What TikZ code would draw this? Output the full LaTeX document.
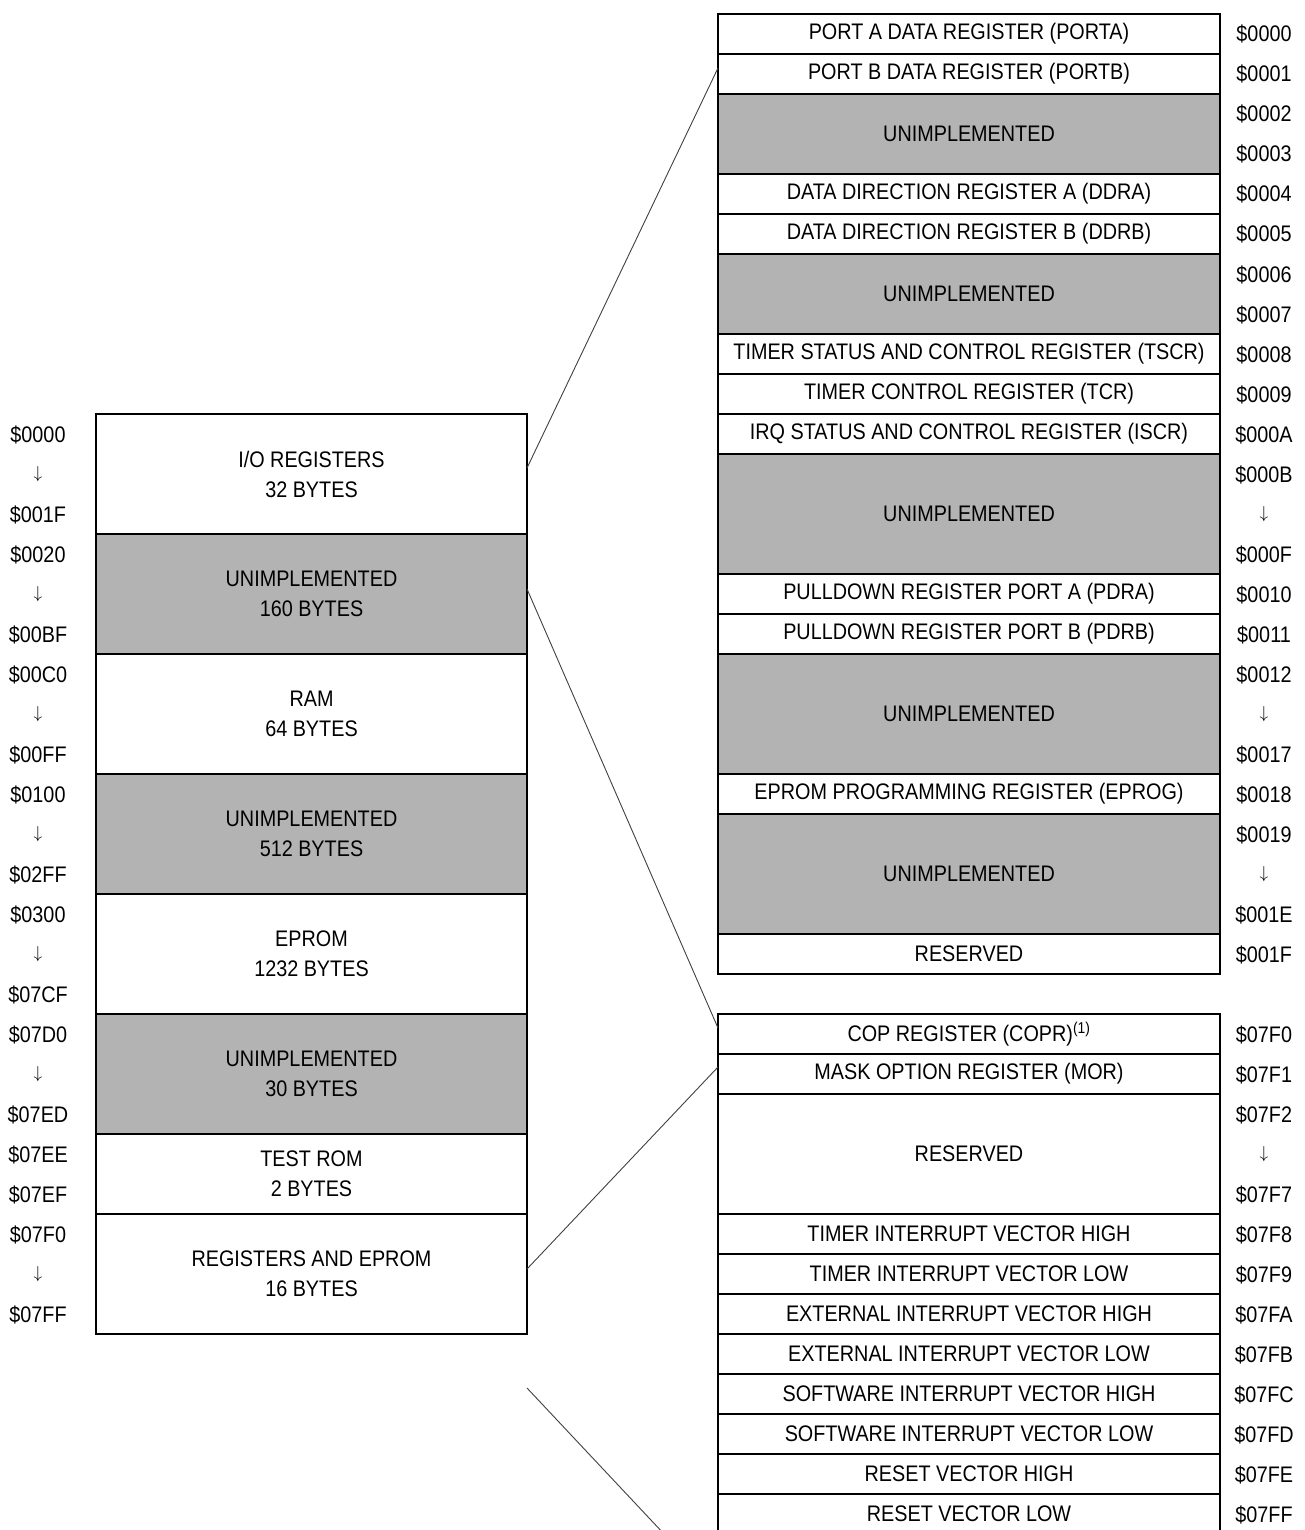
\documentclass[tikz,border=0pt]{standalone}
\usepackage{fontspec}
\setmainfont{Liberation Sans}[FakeStretch=0.88]
\usetikzlibrary{calc}
\definecolor{unimp}{RGB}{179,179,179}
\begin{document}
\begin{tikzpicture}[x=1pt,y=-1pt,
  font=\fontsize{22.5}{30}\selectfont,
  cell/.style={draw, line width=2.4pt, inner sep=0pt, outer sep=0pt, anchor=north west, align=center},
  lcell/.style={cell, minimum width=431pt, minimum height=120pt},
  rcell/.style={cell, minimum width=502pt, minimum height=40pt},
  gap/.style={fill=unimp},
  addr/.style={inner sep=0pt, text height=16pt, text depth=0pt, anchor=center},
  darr/.style={inner sep=0pt, anchor=center, font=\fontsize{19}{19}\selectfont},
  link/.style={line width=0.9pt, draw=black!75}]
\clip (0,0) rectangle (1304,1530);
\useasboundingbox (0,0) rectangle (1304,1530);

% ---------- left memory map ----------
\node[lcell] (io) at (96,414) {I/O REGISTERS\\32 BYTES};
\node[lcell,gap] (un160) at (96,534) {UNIMPLEMENTED\\160 BYTES};
\node[lcell] (ram) at (96,654) {RAM\\64 BYTES};
\node[lcell,gap] (un512) at (96,774) {UNIMPLEMENTED\\512 BYTES};
\node[lcell] (eprom) at (96,894) {EPROM\\1232 BYTES};
\node[lcell,gap] (un30) at (96,1014) {UNIMPLEMENTED\\30 BYTES};
\node[lcell,minimum height=80pt] (trom) at (96,1134) {TEST ROM\\2 BYTES};
\node[lcell] (regs) at (96,1214) {REGISTERS AND EPROM\\16 BYTES};

% left addresses
\node[addr] (la0) at (38,434) {\$0000};
\node[darr] (la1) at (38,474) {$\downarrow$};
\node[addr] (la2) at (38,514) {\$001F};
\node[addr] (la3) at (38,554) {\$0020};
\node[darr] (la4) at (38,594) {$\downarrow$};
\node[addr] (la5) at (38,634) {\$00BF};
\node[addr] (la6) at (38,674) {\$00C0};
\node[darr] (la7) at (38,714) {$\downarrow$};
\node[addr] (la8) at (38,754) {\$00FF};
\node[addr] (la9) at (38,794) {\$0100};
\node[darr] (la10) at (38,834) {$\downarrow$};
\node[addr] (la11) at (38,874) {\$02FF};
\node[addr] (la12) at (38,914) {\$0300};
\node[darr] (la13) at (38,954) {$\downarrow$};
\node[addr] (la14) at (38,994) {\$07CF};
\node[addr] (la15) at (38,1034) {\$07D0};
\node[darr] (la16) at (38,1074) {$\downarrow$};
\node[addr] (la17) at (38,1114) {\$07ED};
\node[addr] (la18) at (38,1154) {\$07EE};
\node[addr] (la19) at (38,1194) {\$07EF};
\node[addr] (la20) at (38,1234) {\$07F0};
\node[darr] (la21) at (38,1274) {$\downarrow$};
\node[addr] (la22) at (38,1314) {\$07FF};

% ---------- right table 1: I/O registers ----------
\node[rcell] (porta) at (718,14) {PORT A DATA REGISTER (PORTA)};
\node[rcell] (portb) at (718,54) {PORT B DATA REGISTER (PORTB)};
\node[rcell,gap,minimum height=80pt] (u1) at (718,94) {UNIMPLEMENTED};
\node[rcell] (ddra) at (718,174) {DATA DIRECTION REGISTER A (DDRA)};
\node[rcell] (ddrb) at (718,214) {DATA DIRECTION REGISTER B (DDRB)};
\node[rcell,gap,minimum height=80pt] (u2) at (718,254) {UNIMPLEMENTED};
\node[rcell] (tscr) at (718,334) {TIMER STATUS AND CONTROL REGISTER (TSCR)};
\node[rcell] (tcr) at (718,374) {TIMER CONTROL REGISTER (TCR)};
\node[rcell] (iscr) at (718,414) {IRQ STATUS AND CONTROL REGISTER (ISCR)};
\node[rcell,gap,minimum height=120pt] (u3) at (718,454) {UNIMPLEMENTED};
\node[rcell] (pdra) at (718,574) {PULLDOWN REGISTER PORT A (PDRA)};
\node[rcell] (pdrb) at (718,614) {PULLDOWN REGISTER PORT B (PDRB)};
\node[rcell,gap,minimum height=120pt] (u4) at (718,654) {UNIMPLEMENTED};
\node[rcell] (eprog) at (718,774) {EPROM PROGRAMMING REGISTER (EPROG)};
\node[rcell,gap,minimum height=120pt] (u5) at (718,814) {UNIMPLEMENTED};
\node[rcell] (res1) at (718,934) {RESERVED};

\node[addr] (ra0) at (1264,34) {\$0000};
\node[addr] (ra1) at (1264,74) {\$0001};
\node[addr] (ra2) at (1264,114) {\$0002};
\node[addr] (ra3) at (1264,154) {\$0003};
\node[addr] (ra4) at (1264,194) {\$0004};
\node[addr] (ra5) at (1264,234) {\$0005};
\node[addr] (ra6) at (1264,274) {\$0006};
\node[addr] (ra7) at (1264,314) {\$0007};
\node[addr] (ra8) at (1264,354) {\$0008};
\node[addr] (ra9) at (1264,394) {\$0009};
\node[addr] (ra10) at (1264,434) {\$000A};
\node[addr] (ra11) at (1264,474) {\$000B};
\node[darr] (ra12) at (1264,514) {$\downarrow$};
\node[addr] (ra13) at (1264,554) {\$000F};
\node[addr] (ra14) at (1264,594) {\$0010};
\node[addr] (ra15) at (1264,634) {\$0011};
\node[addr] (ra16) at (1264,674) {\$0012};
\node[darr] (ra17) at (1264,714) {$\downarrow$};
\node[addr] (ra18) at (1264,754) {\$0017};
\node[addr] (ra19) at (1264,794) {\$0018};
\node[addr] (ra20) at (1264,834) {\$0019};
\node[darr] (ra21) at (1264,874) {$\downarrow$};
\node[addr] (ra22) at (1264,914) {\$001E};
\node[addr] (ra23) at (1264,954) {\$001F};

% ---------- right table 2: registers and vectors ----------
\node[rcell] (cop) at (718,1014) {COP REGISTER (COPR)\textsuperscript{(1)}};
\node[rcell] (mor) at (718,1054) {MASK OPTION REGISTER (MOR)};
\node[rcell,minimum height=120pt] (res2) at (718,1094) {RESERVED};
\node[rcell] (tivh) at (718,1214) {TIMER INTERRUPT VECTOR HIGH};
\node[rcell] (tivl) at (718,1254) {TIMER INTERRUPT VECTOR LOW};
\node[rcell] (eivh) at (718,1294) {EXTERNAL INTERRUPT VECTOR HIGH};
\node[rcell] (eivl) at (718,1334) {EXTERNAL INTERRUPT VECTOR LOW};
\node[rcell] (sivh) at (718,1374) {SOFTWARE INTERRUPT VECTOR HIGH};
\node[rcell] (sivl) at (718,1414) {SOFTWARE INTERRUPT VECTOR LOW};
\node[rcell] (rvh) at (718,1454) {RESET VECTOR HIGH};
\node[rcell] (rvl) at (718,1494) {RESET VECTOR LOW};

\node[addr] (rb0) at (1264,1034) {\$07F0};
\node[addr] (rb1) at (1264,1074) {\$07F1};
\node[addr] (rb2) at (1264,1114) {\$07F2};
\node[darr] (rb3) at (1264,1154) {$\downarrow$};
\node[addr] (rb4) at (1264,1194) {\$07F7};
\node[addr] (rb5) at (1264,1234) {\$07F8};
\node[addr] (rb6) at (1264,1274) {\$07F9};
\node[addr] (rb7) at (1264,1314) {\$07FA};
\node[addr] (rb8) at (1264,1354) {\$07FB};
\node[addr] (rb9) at (1264,1394) {\$07FC};
\node[addr] (rb10) at (1264,1434) {\$07FD};
\node[addr] (rb11) at (1264,1474) {\$07FE};
\node[addr] (rb12) at (1264,1514) {\$07FF};

% ---------- expansion lines ----------
\draw[link] ([yshift=6pt]io.east) -- ([yshift=6pt]portb.west);
\draw[link] ([yshift=5pt]un160.east) -- ([yshift=6pt]cop.west);
\draw[link] ([yshift=5pt]regs.east) -- ([yshift=7pt]mor.west);
\coordinate (t1) at (527,1388);
\coordinate (t2) at (665,1535);
\draw[link] (t1) -- (t2);
\end{tikzpicture}
\end{document}
